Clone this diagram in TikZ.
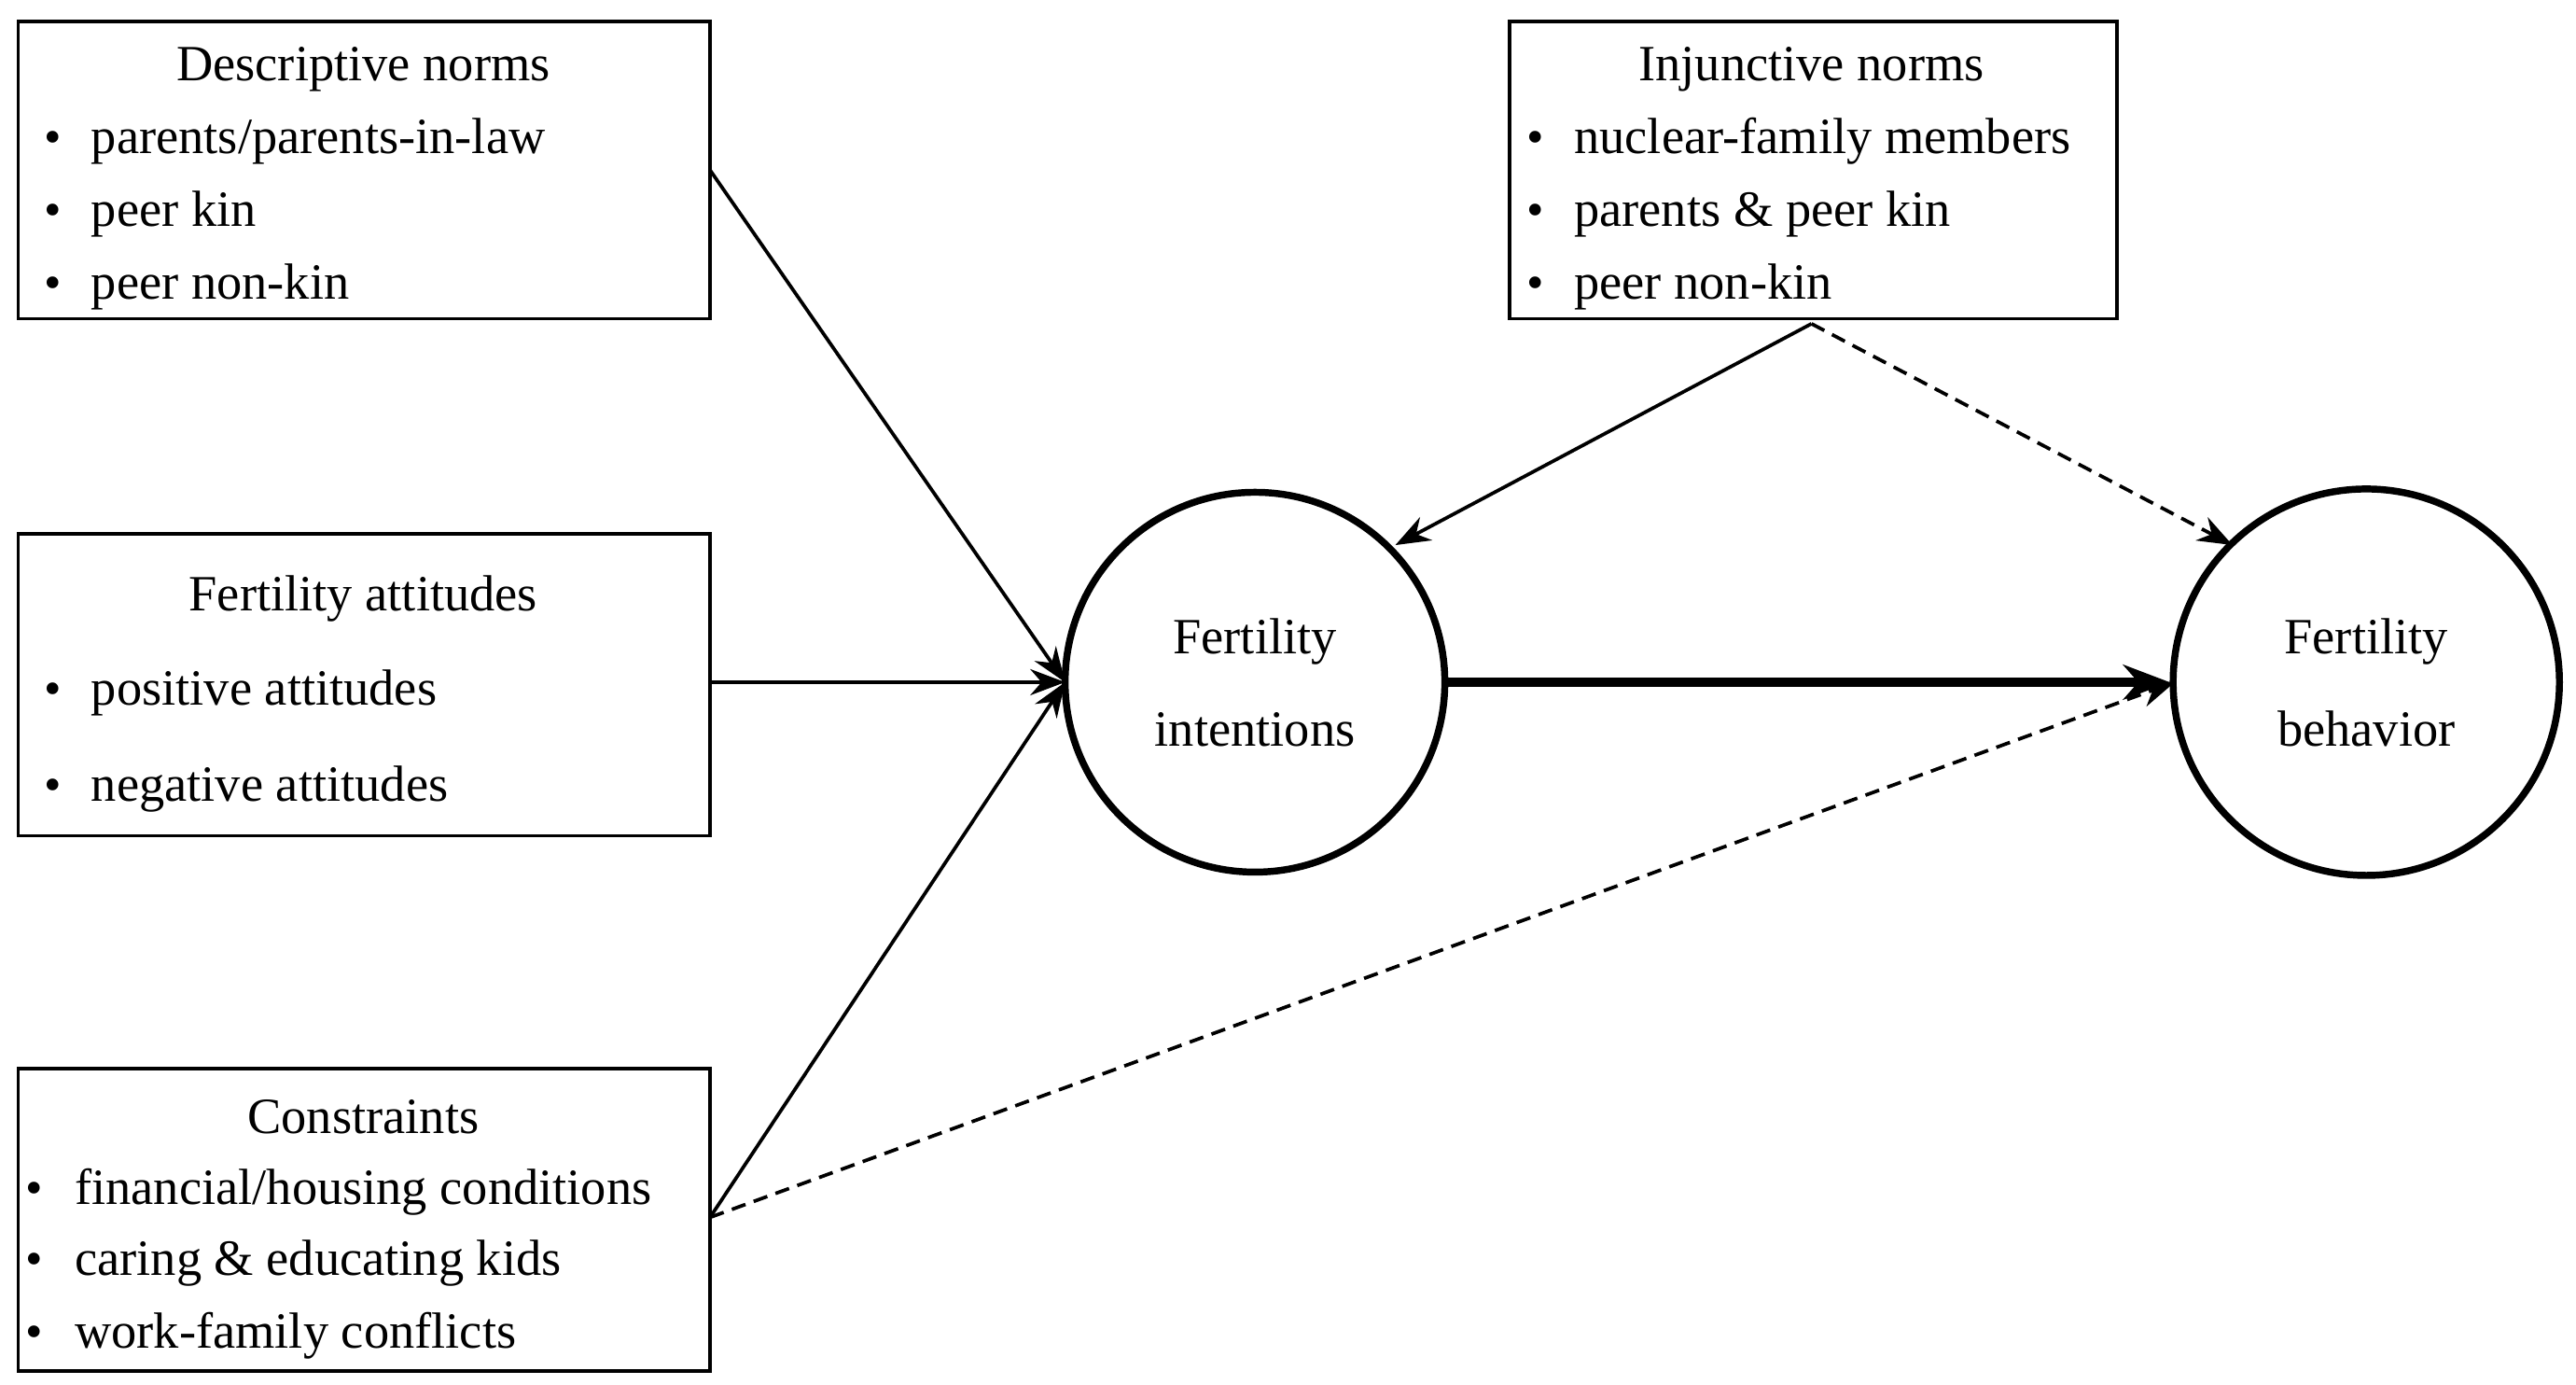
\documentclass[tikz,border=0pt]{standalone}
\usepackage{fontspec}
\setmainfont{Liberation Serif}
\usetikzlibrary{arrows.meta}
\begin{document}
\begin{tikzpicture}[x=0.02cm,y=-0.02cm,
  box/.style={draw,line width=1.2pt,inner sep=0pt},
  circ/.style={draw,circle,line width=2.4pt,minimum size=4.6cm,inner sep=0pt},
  txt/.style={anchor=base west,inner sep=0pt,font=\fontsize{17.5}{21}\selectfont},
  ttl/.style={anchor=base,inner sep=0pt,font=\fontsize{17.5}{21}\selectfont},
  bul/.style={anchor=base,inner sep=0pt,font=\fontsize{17}{20}\selectfont},
  arr/.style={line width=1.2pt,-{Stealth[length=12pt,width=9pt]}},
  darr/.style={arr,dash pattern=on 5pt off 3pt}]
\useasboundingbox (0,0) rectangle (1560,838);
\node[box,minimum width=8.38cm,minimum height=3.6cm,anchor=north west] (dn) at (10,12) {};
\node[box,minimum width=8.38cm,minimum height=3.66cm,anchor=north west] (fa) at (10,322) {};
\node[box,minimum width=8.38cm,minimum height=3.66cm,anchor=north west] (cs) at (10,646) {};
\node[box,minimum width=7.36cm,minimum height=3.6cm,anchor=north west] (in) at (913,12) {};
\node[circ] (fi) at (760,413) {};
\node[circ,minimum size=4.68cm] (fb) at (1433,413) {};
% texts
\node[ttl] (t1) at (220,49) {Descriptive norms};
\foreach \y/\t [count=\i] in {93/{parents/parents-in-law},137/{peer kin},181/{peer non-kin}}{
  \node[bul] (b1\i) at (32,\y) {\textbullet};
  \node[txt] (x1\i) at (55,\y) {\t};}
\node[ttl] (t2) at (220,370) {Fertility attitudes};
\foreach \y/\t [count=\i] in {427/{positive attitudes},485/{negative attitudes}}{
  \node[bul] (b2\i) at (32,\y) {\textbullet};
  \node[txt] (x2\i) at (55,\y) {\t};}
\node[ttl] (t3) at (220,686) {Constraints};
\foreach \y/\t [count=\i] in {729/{financial/housing conditions},772/{caring \& educating kids},816/{work-family conflicts}}{
  \node[bul] (b3\i) at (21,\y) {\textbullet};
  \node[txt] (x3\i) at (45,\y) {\t};}
\node[ttl] (t4) at (1097,49) {Injunctive norms};
\foreach \y/\t [count=\i] in {93/{nuclear-family members},137/{parents \& peer kin},181/{peer non-kin}}{
  \node[bul] (b4\i) at (930,\y) {\textbullet};
  \node[txt] (x4\i) at (953,\y) {\t};}
\node[ttl] (c1) at (760,396) {Fertility};
\node[ttl] (c2) at (760,452) {intentions};
\node[ttl] (c3) at (1433,396) {Fertility};
\node[ttl] (c4) at (1433,452) {behavior};
% connectors
\coordinate (dnr) at (430,103);
\coordinate (far) at (430,413);
\coordinate (csr) at (430,737);
\coordinate (inb) at (1097,196);
\coordinate (fiL) at (645,413);
\coordinate (fiUL) at (845,330);
\coordinate (fbUL) at (1352,330);
\coordinate (fbL) at (1317,413);
\draw[arr] (dnr) -- (fiL);
\draw[arr] (far) -- (fiL);
\draw[arr] (csr) -- (fiL);
\draw[arr] (inb) -- (fiUL);
\draw[darr] (inb) -- (fbUL);
\draw[darr] (csr) -- (fbL);
\draw[line width=3pt,-{Stealth[length=16pt,width=12pt]}] (fi.east) -- (fb.west);
\end{tikzpicture}
\end{document}
